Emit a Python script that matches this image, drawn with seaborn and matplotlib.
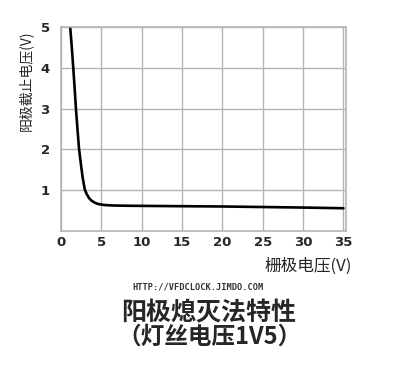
import matplotlib
matplotlib.use("Agg")
import matplotlib.pyplot as plt
import pandas as pd
import seaborn as sns

# grid voltage (V) vs anode cut-off voltage (V)
grid_v = [1.15, 1.35, 1.53, 1.7, 1.86, 2.05, 2.25, 2.5, 2.7, 2.95, 3.2, 3.5,
          3.8, 4.2, 4.6, 5.0, 5.5, 6.5, 8.0, 10.0, 15.0, 20.0, 25.0, 30.0, 35.0]
anode_v = [5.0, 4.5, 4.0, 3.5, 3.0, 2.5, 2.0, 1.6, 1.3, 1.02, 0.9, 0.8,
           0.74, 0.69, 0.66, 0.645, 0.632, 0.622, 0.617, 0.613, 0.605, 0.598, 0.585, 0.572, 0.555]
x_ticks = [0, 5, 10, 15, 20, 25, 30, 35]
y_ticks = [1, 2, 3, 4, 5]

df = pd.DataFrame({"grid": grid_v, "anode": anode_v})

sns.set_style("whitegrid", {"grid.color": "#b4b4b4", "axes.edgecolor": "#b4b4b4"})
plt.rcParams["font.family"] = ["Noto Sans CJK SC", "DejaVu Sans"]

fig = plt.figure(figsize=(3.93, 3.76), dpi=100)
ax = fig.add_axes([0.155, 0.386, 0.725, 0.542])
sns.lineplot(data=df, x="grid", y="anode", ax=ax, color="black", linewidth=1.9)

ax.set_xlim(0, 35.3)
ax.set_ylim(0, 5)
ax.set_xticks(x_ticks)
ax.set_yticks(y_ticks)
for lab in ax.get_xticklabels() + ax.get_yticklabels():
    lab.set_family("DejaVu Sans")
    lab.set_fontweight("bold")
    lab.set_fontsize(9.5)
ax.tick_params(axis="x", pad=4, length=0)
ax.tick_params(axis="y", pad=8, length=0)
ax.grid(True, linewidth=1.0)
for s in ax.spines.values():
    s.set_linewidth(1.2)

ax.set_ylabel("阳极截止电压(V)", loc="top", fontsize=10)
ax.yaxis.set_label_coords(-0.098, 0.985)
ax.set_xlabel("栅极电压(V)", loc="right", fontsize=12)
ax.xaxis.set_label_coords(1.02, -0.13)

fig.text(0.504, 0.237, "HTTP://VFDCLOCK.JIMDO.COM", ha="center", va="center",
         fontsize=6.2, family="DejaVu Sans Mono", fontweight="bold", color="#333333")
fig.text(0.532, 0.168, "阳极熄灭法特性", ha="center", va="center", fontsize=18,
         fontweight="bold")
fig.text(0.532, 0.105, "（灯丝电压1V5）", ha="center", va="center", fontsize=17,
         fontweight="bold")

fig.savefig("out.png", dpi=100)
